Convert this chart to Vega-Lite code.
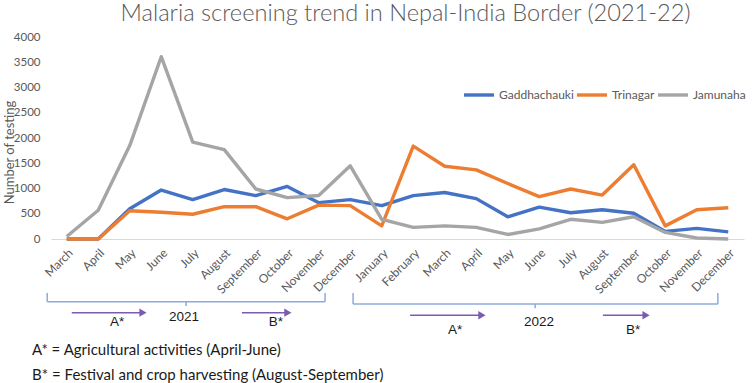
{
  "$schema": "https://vega.github.io/schema/vega-lite/v6.json",
  "autosize": {"type": "none"},
  "width": 693,
  "height": 202,
  "padding": {"left": 51, "top": 37, "right": 8, "bottom": 144},
  "background": "white",
  "title": {
    "text": "Malaria screening trend in Nepal-India Border (2021-22)",
    "font": "Lato",
    "fontWeight": 300,
    "fontSize": 23.6,
    "color": "#595959",
    "anchor": "middle",
    "frame": "group",
    "dx": 8,
    "offset": 5
  },
  "config": {
    "view": {"stroke": null},
    "font": "Lato"
  },
  "datasets": {
    "testing": [
      {"m": 0, "month": "March", "year": 2021, "site": "Gaddhachauki", "tests": 0},
      {"m": 1, "month": "April", "year": 2021, "site": "Gaddhachauki", "tests": 0},
      {"m": 2, "month": "May", "year": 2021, "site": "Gaddhachauki", "tests": 600},
      {"m": 3, "month": "June", "year": 2021, "site": "Gaddhachauki", "tests": 970},
      {"m": 4, "month": "July", "year": 2021, "site": "Gaddhachauki", "tests": 780},
      {"m": 5, "month": "August", "year": 2021, "site": "Gaddhachauki", "tests": 980},
      {"m": 6, "month": "September", "year": 2021, "site": "Gaddhachauki", "tests": 860},
      {"m": 7, "month": "October", "year": 2021, "site": "Gaddhachauki", "tests": 1040},
      {"m": 8, "month": "November", "year": 2021, "site": "Gaddhachauki", "tests": 720},
      {"m": 9, "month": "December", "year": 2021, "site": "Gaddhachauki", "tests": 780},
      {"m": 10, "month": "January", "year": 2022, "site": "Gaddhachauki", "tests": 660},
      {"m": 11, "month": "February", "year": 2022, "site": "Gaddhachauki", "tests": 860},
      {"m": 12, "month": "March", "year": 2022, "site": "Gaddhachauki", "tests": 920},
      {"m": 13, "month": "April", "year": 2022, "site": "Gaddhachauki", "tests": 800},
      {"m": 14, "month": "May", "year": 2022, "site": "Gaddhachauki", "tests": 440},
      {"m": 15, "month": "June", "year": 2022, "site": "Gaddhachauki", "tests": 630},
      {"m": 16, "month": "July", "year": 2022, "site": "Gaddhachauki", "tests": 520},
      {"m": 17, "month": "August", "year": 2022, "site": "Gaddhachauki", "tests": 580},
      {"m": 18, "month": "September", "year": 2022, "site": "Gaddhachauki", "tests": 510},
      {"m": 19, "month": "October", "year": 2022, "site": "Gaddhachauki", "tests": 150},
      {"m": 20, "month": "November", "year": 2022, "site": "Gaddhachauki", "tests": 210},
      {"m": 21, "month": "December", "year": 2022, "site": "Gaddhachauki", "tests": 140},
      {"m": 0, "month": "March", "year": 2021, "site": "Trinagar", "tests": 0},
      {"m": 1, "month": "April", "year": 2021, "site": "Trinagar", "tests": 0},
      {"m": 2, "month": "May", "year": 2021, "site": "Trinagar", "tests": 560},
      {"m": 3, "month": "June", "year": 2021, "site": "Trinagar", "tests": 530},
      {"m": 4, "month": "July", "year": 2021, "site": "Trinagar", "tests": 490},
      {"m": 5, "month": "August", "year": 2021, "site": "Trinagar", "tests": 640},
      {"m": 6, "month": "September", "year": 2021, "site": "Trinagar", "tests": 640},
      {"m": 7, "month": "October", "year": 2021, "site": "Trinagar", "tests": 400},
      {"m": 8, "month": "November", "year": 2021, "site": "Trinagar", "tests": 670},
      {"m": 9, "month": "December", "year": 2021, "site": "Trinagar", "tests": 660},
      {"m": 10, "month": "January", "year": 2022, "site": "Trinagar", "tests": 260},
      {"m": 11, "month": "February", "year": 2022, "site": "Trinagar", "tests": 1840},
      {"m": 12, "month": "March", "year": 2022, "site": "Trinagar", "tests": 1440},
      {"m": 13, "month": "April", "year": 2022, "site": "Trinagar", "tests": 1370},
      {"m": 14, "month": "May", "year": 2022, "site": "Trinagar", "tests": 1100},
      {"m": 15, "month": "June", "year": 2022, "site": "Trinagar", "tests": 840},
      {"m": 16, "month": "July", "year": 2022, "site": "Trinagar", "tests": 990},
      {"m": 17, "month": "August", "year": 2022, "site": "Trinagar", "tests": 870},
      {"m": 18, "month": "September", "year": 2022, "site": "Trinagar", "tests": 1470},
      {"m": 19, "month": "October", "year": 2022, "site": "Trinagar", "tests": 260},
      {"m": 20, "month": "November", "year": 2022, "site": "Trinagar", "tests": 580},
      {"m": 21, "month": "December", "year": 2022, "site": "Trinagar", "tests": 620},
      {"m": 0, "month": "March", "year": 2021, "site": "Jamunaha", "tests": 50},
      {"m": 1, "month": "April", "year": 2021, "site": "Jamunaha", "tests": 570},
      {"m": 2, "month": "May", "year": 2021, "site": "Jamunaha", "tests": 1850},
      {"m": 3, "month": "June", "year": 2021, "site": "Jamunaha", "tests": 3610},
      {"m": 4, "month": "July", "year": 2021, "site": "Jamunaha", "tests": 1920},
      {"m": 5, "month": "August", "year": 2021, "site": "Jamunaha", "tests": 1770},
      {"m": 6, "month": "September", "year": 2021, "site": "Jamunaha", "tests": 990},
      {"m": 7, "month": "October", "year": 2021, "site": "Jamunaha", "tests": 820},
      {"m": 8, "month": "November", "year": 2021, "site": "Jamunaha", "tests": 860},
      {"m": 9, "month": "December", "year": 2021, "site": "Jamunaha", "tests": 1450},
      {"m": 10, "month": "January", "year": 2022, "site": "Jamunaha", "tests": 390},
      {"m": 11, "month": "February", "year": 2022, "site": "Jamunaha", "tests": 230},
      {"m": 12, "month": "March", "year": 2022, "site": "Jamunaha", "tests": 260},
      {"m": 13, "month": "April", "year": 2022, "site": "Jamunaha", "tests": 230},
      {"m": 14, "month": "May", "year": 2022, "site": "Jamunaha", "tests": 90},
      {"m": 15, "month": "June", "year": 2022, "site": "Jamunaha", "tests": 200},
      {"m": 16, "month": "July", "year": 2022, "site": "Jamunaha", "tests": 390},
      {"m": 17, "month": "August", "year": 2022, "site": "Jamunaha", "tests": 330},
      {"m": 18, "month": "September", "year": 2022, "site": "Jamunaha", "tests": 440},
      {"m": 19, "month": "October", "year": 2022, "site": "Jamunaha", "tests": 130},
      {"m": 20, "month": "November", "year": 2022, "site": "Jamunaha", "tests": 20},
      {"m": 21, "month": "December", "year": 2022, "site": "Jamunaha", "tests": 0}
    ],
    "brackets": [
      {"year": "2021", "x": -0.62, "x2": 8.2, "y": -1241, "y2": -1241},
      {"year": "2021", "x": -0.62, "x2": -0.62, "y": -1069, "y2": -1241},
      {"year": "2021", "x": 8.2, "x2": 8.2, "y": -1069, "y2": -1241},
      {"year": "2021", "x": 3.79, "x2": 3.79, "y": -1241, "y2": -1327},
      {"year": "2022", "x": 9.09, "x2": 20.67, "y": -1287, "y2": -1287},
      {"year": "2022", "x": 9.09, "x2": 9.09, "y": -1069, "y2": -1287},
      {"year": "2022", "x": 20.67, "x2": 20.67, "y": -1069, "y2": -1287},
      {"year": "2022", "x": 14.87, "x2": 14.87, "y": -1287, "y2": -1373}
    ],
    "arrows": [
      {"season": "A*", "year": "2021", "x": 0.16, "x2": 2.42, "y": -1459},
      {"season": "B*", "year": "2021", "x": 5.56, "x2": 7.02, "y": -1459},
      {"season": "A*", "year": "2022", "x": 10.9, "x2": 13.18, "y": -1511},
      {"season": "B*", "year": "2022", "x": 17.02, "x2": 18.39, "y": -1511}
    ],
    "labels": [
      {"text": "2021", "x": 3.72, "y": -1550},
      {"text": "2022", "x": 14.99, "y": -1637},
      {"text": "A*", "x": 1.6, "y": -1650},
      {"text": "B*", "x": 6.64, "y": -1650},
      {"text": "A*", "x": 12.33, "y": -1802},
      {"text": "B*", "x": 17.98, "y": -1802}
    ],
    "notes": [
      {"text": "A* = Agricultural activities (April-June)", "x": -1.1, "y": -2198},
      {"text": "B* = Festival and crop harvesting (August-September)", "x": -1.1, "y": -2693}
    ]
  },
  "layer": [
    {
      "data": {"name": "testing"},
      "mark": {"type": "line", "strokeWidth": 3.4, "strokeJoin": "round", "strokeCap": "butt"},
      "encoding": {
        "x": {
          "field": "m",
          "type": "quantitative",
          "scale": {"domain": [-0.5, 21.5], "nice": false, "zero": false},
          "axis": {
            "title": null,
            "values": [0, 1, 2, 3, 4, 5, 6, 7, 8, 9, 10, 11, 12, 13, 14, 15, 16, 17, 18, 19, 20, 21],
            "tickCount": 40,
            "labelExpr": "['March','April','May','June','July','August','September','October','November','December','January','February','March','April','May','June','July','August','September','October','November','December'][datum.value]",
            "labelAngle": -45,
            "labelFont": "Lato",
            "labelFontSize": 12,
            "labelColor": "#595959",
            "labelPadding": 8,
            "labelOverlap": false,
            "labelBound": false,
            "labelFlush": false,
            "ticks": false,
            "grid": false,
            "domainColor": "#D9D9D9",
            "domainWidth": 1
          }
        },
        "y": {
          "field": "tests",
          "type": "quantitative",
          "scale": {"domain": [0, 4000], "nice": false},
          "axis": {
            "title": "Number of testing",
            "titleFont": "Lato",
            "titleFontSize": 13,
            "titleFontWeight": "normal",
            "titleColor": "#595959",
            "titlePadding": -3,
            "titleY": 115,
            "values": [0, 500, 1000, 1500, 2000, 2500, 3000, 3500, 4000],
            "tickCount": 20,
            "format": "d",
            "labelFont": "Lato",
            "labelFontSize": 11.5,
            "labelColor": "#595959",
            "labelPadding": 11,
            "labelOverlap": false,
            "ticks": false,
            "domain": false,
            "grid": false
          }
        },
        "color": {
          "field": "site",
          "type": "nominal",
          "scale": {
            "domain": ["Gaddhachauki", "Trinagar", "Jamunaha"],
            "range": ["#4472C4", "#ED7D31", "#A5A5A5"]
          },
          "legend": {
            "title": null,
            "orient": "none",
            "direction": "horizontal",
            "legendX": 411,
            "legendY": 41,
            "padding": 0,
            "gridAlign": "none",
            "symbolType": "stroke",
            "symbolSize": 900,
            "symbolStrokeWidth": 3.4,
            "labelFont": "Lato",
            "labelFontSize": 12,
            "labelColor": "#595959",
            "labelOffset": 3,
            "columnPadding": -4
          }
        }
      }
    },
    {
      "data": {"name": "brackets"},
      "mark": {"type": "rule", "color": "#8EAADB", "strokeWidth": 1.5},
      "encoding": {
        "x": {"field": "x", "type": "quantitative"},
        "x2": {"field": "x2"},
        "y": {"field": "y", "type": "quantitative"},
        "y2": {"field": "y2"}
      }
    },
    {
      "data": {"name": "arrows"},
      "mark": {"type": "rule", "color": "#7B5BAE", "strokeWidth": 1.5},
      "encoding": {
        "x": {"field": "x", "type": "quantitative"},
        "x2": {"field": "x2"},
        "y": {"field": "y", "type": "quantitative"}
      }
    },
    {
      "data": {"name": "arrows"},
      "mark": {"type": "point", "shape": "triangle-right", "filled": true, "color": "#7B5BAE", "size": 70, "opacity": 1},
      "encoding": {
        "x": {"field": "x2", "type": "quantitative"},
        "y": {"field": "y", "type": "quantitative"}
      }
    },
    {
      "data": {"name": "labels"},
      "mark": {"type": "text", "font": "Liberation Sans", "fontSize": 13.5, "color": "#1a1a1a", "align": "center", "baseline": "middle"},
      "encoding": {
        "x": {"field": "x", "type": "quantitative"},
        "y": {"field": "y", "type": "quantitative"},
        "text": {"field": "text"}
      }
    },
    {
      "data": {"name": "notes"},
      "mark": {"type": "text", "font": "Lato", "fontSize": 15, "color": "#1a1a1a", "align": "left", "baseline": "middle"},
      "encoding": {
        "x": {"field": "x", "type": "quantitative"},
        "y": {"field": "y", "type": "quantitative"},
        "text": {"field": "text"}
      }
    }
  ]
}
